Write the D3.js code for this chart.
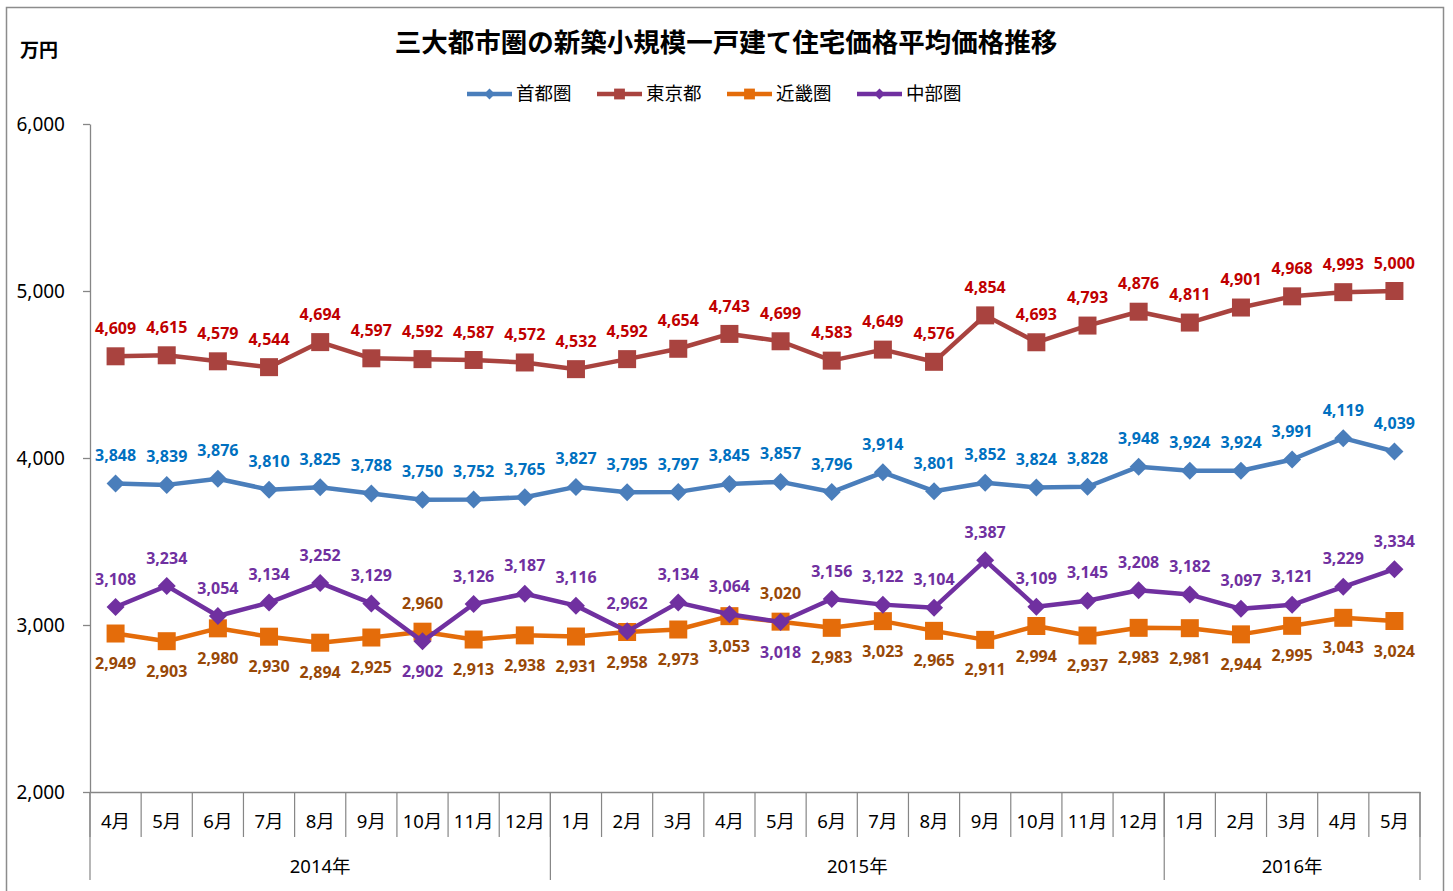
<!DOCTYPE html>
<html>
<head>
<meta charset="utf-8">
<script src="https://cdn.jsdelivr.net/npm/d3@7"></script>
<style>
  body { margin: 0; background: #fff; }
  text { font-family: 'Noto Sans', 'Noto Sans CJK JP', sans-serif; }
</style>
</head>
<body>
<div id="chart"></div>
<script>
// data
const MONTHS = ["4月", "5月", "6月", "7月", "8月", "9月", "10月", "11月", "12月",
  "1月", "2月", "3月", "4月", "5月", "6月", "7月", "8月", "9月", "10月", "11月", "12月",
  "1月", "2月", "3月", "4月", "5月"];
const YEARS = ["2014年", "2015年", "2016年"];
const YEAR_MONTHS = [9, 12, 5];

const SERIES_NAMES = ["首都圏", "東京都", "近畿圏", "中部圏"];
const SHUTOKEN = [3848, 3839, 3876, 3810, 3825, 3788, 3750, 3752, 3765, 3827, 3795, 3797, 3845,
  3857, 3796, 3914, 3801, 3852, 3824, 3828, 3948, 3924, 3924, 3991, 4119, 4039];
const TOKYO = [4609, 4615, 4579, 4544, 4694, 4597, 4592, 4587, 4572, 4532, 4592, 4654, 4743,
  4699, 4583, 4649, 4576, 4854, 4693, 4793, 4876, 4811, 4901, 4968, 4993, 5000];
const KINKI = [2949, 2903, 2980, 2930, 2894, 2925, 2960, 2913, 2938, 2931, 2958, 2973, 3053,
  3020, 2983, 3023, 2965, 2911, 2994, 2937, 2983, 2981, 2944, 2995, 3043, 3024];
const CHUBU = [3108, 3234, 3054, 3134, 3252, 3129, 2902, 3126, 3187, 3116, 2962, 3134, 3064,
  3018, 3156, 3122, 3104, 3387, 3109, 3145, 3208, 3182, 3097, 3121, 3229, 3334];
const Y_TICKS = [2000, 3000, 4000, 5000, 6000];

// months where 近畿圏 / 中部圏 labels swap sides
const SWAP_IDX = [6, 13];

// setting up constants
const FRAME_WIDTH = 1453;
const FRAME_HEIGHT = 891;
const PLOT = {left: 90, right: 1420, top: 124, bottom: 792};

const SVG = d3.select("#chart")
  .append("svg")
  .attr("width", FRAME_WIDTH)
  .attr("height", FRAME_HEIGHT);

// outer frame
SVG.append("rect")
  .attr("x", 6.5).attr("y", 7.5)
  .attr("width", 1437).attr("height", 900)
  .attr("fill", "none")
  .attr("stroke", "#8c8c8c")
  .attr("stroke-width", 1.5);

// scales
const xScale = d3.scaleBand()
  .domain(d3.range(MONTHS.length))
  .range([PLOT.left, PLOT.right]);
const cx = (i) => xScale(i) + xScale.bandwidth() / 2;

const yScale = d3.scaleLinear()
  .domain([2000, 6000])
  .range([PLOT.bottom, PLOT.top]);

// y axis
const yAxis = SVG.append("g")
  .attr("transform", "translate(" + PLOT.left + ",0)")
  .call(d3.axisLeft(yScale).tickValues(Y_TICKS).tickFormat(d3.format(",")).tickSize(7).tickSizeOuter(0).tickPadding(18));
yAxis.selectAll("path, line").attr("stroke", "#868686").attr("stroke-width", 1.3);
yAxis.selectAll("text").attr("font-size", 19).attr("fill", "#000")
  .style("font-family", "'Noto Sans', sans-serif");

// x axis (baseline + month labels)
const xAxis = SVG.append("g")
  .attr("transform", "translate(0," + PLOT.bottom + ")")
  .call(d3.axisBottom(xScale).tickFormat((i) => MONTHS[i]).tickSize(0).tickSizeOuter(0).tickPadding(23));
xAxis.select(".domain").attr("stroke", "#868686").attr("stroke-width", 1.3);
xAxis.selectAll("text").attr("font-size", 18.5).attr("fill", "#000");

// month separators
SVG.selectAll(".msep")
  .data(d3.range(MONTHS.length + 1))
  .enter()
  .append("line")
  .attr("x1", (i) => PLOT.left + i * xScale.bandwidth())
  .attr("x2", (i) => PLOT.left + i * xScale.bandwidth())
  .attr("y1", PLOT.bottom)
  .attr("y2", PLOT.bottom + 45)
  .attr("stroke", "#868686")
  .attr("stroke-width", 1.2);

// year groups
let yearStart = [0];
YEAR_MONTHS.forEach((n, k) => yearStart.push(yearStart[k] + n));
SVG.selectAll(".ysep")
  .data(yearStart)
  .enter()
  .append("line")
  .attr("x1", (i) => PLOT.left + i * xScale.bandwidth())
  .attr("x2", (i) => PLOT.left + i * xScale.bandwidth())
  .attr("y1", PLOT.bottom)
  .attr("y2", PLOT.bottom + 88)
  .attr("stroke", "#868686")
  .attr("stroke-width", 1.2);
SVG.selectAll(".ylab")
  .data(YEARS)
  .enter()
  .append("text")
  .attr("x", (d, k) => PLOT.left + (yearStart[k] + YEAR_MONTHS[k] / 2) * xScale.bandwidth())
  .attr("y", PLOT.bottom + 81)
  .attr("text-anchor", "middle")
  .attr("font-size", 18.5)
  .text((d) => d);

// title and unit
SVG.append("text")
  .attr("x", 726).attr("y", 52)
  .attr("text-anchor", "middle")
  .attr("font-size", 26.5)
  .attr("font-weight", "bold")
  .style("font-family", "'Noto Sans CJK JP', sans-serif")
  .text("三大都市圏の新築小規模一戸建て住宅価格平均価格推移");
SVG.append("text")
  .attr("x", 20).attr("y", 57)
  .attr("font-size", 19)
  .attr("font-weight", "bold")
  .style("font-family", "'Noto Sans CJK JP', sans-serif")
  .text("万円");

// series setup
const diamond = "M0,-9L9,0L0,9L-9,0Z";
const square = "M-9,-9H9V9H-9Z";
const SERIES = [
  {name: SERIES_NAMES[0], values: SHUTOKEN, line: "#4A7EBB", label: "#0070C0", marker: diamond, below: () => false},
  {name: SERIES_NAMES[1], values: TOKYO, line: "#A9433F", label: "#C00000", marker: square, below: () => false},
  {name: SERIES_NAMES[2], values: KINKI, line: "#E46C0A", label: "#984807", marker: square, below: (i) => !SWAP_IDX.includes(i)},
  {name: SERIES_NAMES[3], values: CHUBU, line: "#7030A0", label: "#7030A0", marker: diamond, below: (i) => SWAP_IDX.includes(i)}
];

const lineGen = d3.line()
  .x((d, i) => cx(i))
  .y((d) => yScale(d));

// draw lines, markers, labels
SERIES.forEach((s) => {
  const g = SVG.append("g");
  g.append("path")
    .datum(s.values)
    .attr("d", lineGen)
    .attr("fill", "none")
    .attr("stroke", s.line)
    .attr("stroke-width", 4.5)
    .attr("stroke-linejoin", "round");
  g.selectAll(".mk")
    .data(s.values)
    .enter()
    .append("path")
    .attr("d", s.marker)
    .attr("transform", (d, i) => "translate(" + cx(i) + "," + yScale(d) + ")")
    .attr("fill", s.line);
});

SERIES.forEach((s) => {
  SVG.append("g").selectAll("text")
    .data(s.values)
    .enter()
    .append("text")
    .attr("x", (d, i) => cx(i))
    .attr("y", (d, i) => yScale(d) + (s.below(i) ? 30 : -28))
    .attr("dy", "0.35em")
    .attr("text-anchor", "middle")
    .attr("font-size", 16)
    .attr("font-weight", "bold")
    .attr("fill", s.label)
    .text((d) => d3.format(",")(d));
});

// legend
const legend = SVG.selectAll(".legend")
  .data(SERIES)
  .enter()
  .append("g")
  .attr("transform", (d, k) => "translate(" + (467 + k * 130) + ",94)");
legend.append("line")
  .attr("x1", 0).attr("x2", 45)
  .attr("stroke", (d) => d.line)
  .attr("stroke-width", 4.5);
legend.append("path")
  .attr("d", (d) => d.marker)
  .attr("transform", "translate(22.5,0) scale(0.6)")
  .attr("fill", (d) => d.line);
legend.append("text")
  .attr("x", 49)
  .attr("dy", "0.35em")
  .attr("font-size", 18.5)
  .style("font-family", "'Noto Sans CJK JP', sans-serif")
  .text((d) => d.name);
</script>
</body>
</html>
